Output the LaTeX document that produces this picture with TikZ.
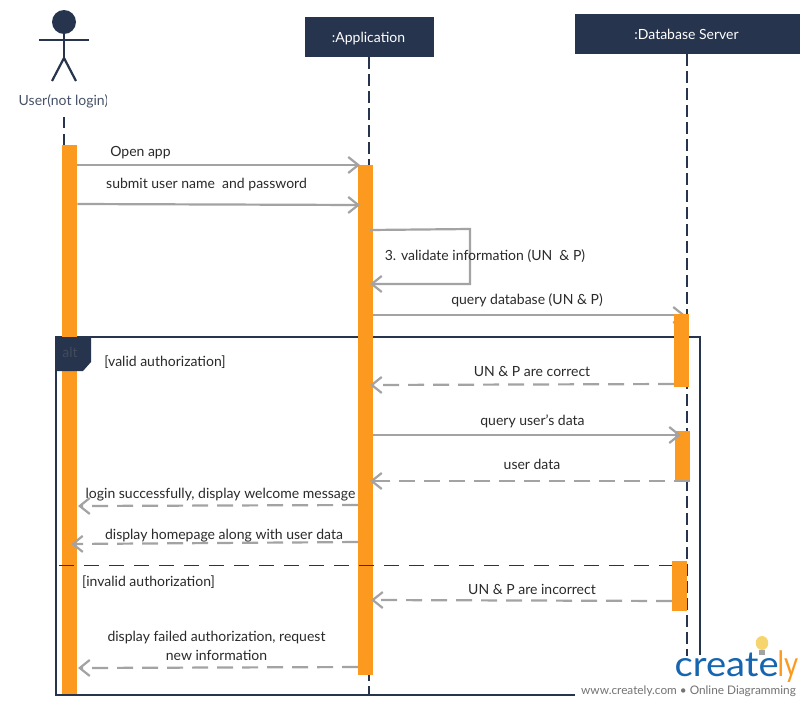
\documentclass[tikz,border=0pt]{standalone}
\usepackage{fontspec}
\setmainfont{Lato}
\usetikzlibrary{arrows.meta,calc,shapes.geometric}
\definecolor{navy}{HTML}{26344D}
\definecolor{msg}{HTML}{A3A3A3}
\definecolor{bar}{HTML}{FB9A1F}
\definecolor{txt}{HTML}{2A2A2A}
\definecolor{logoblue}{HTML}{1565B0}
\definecolor{bulbc}{HTML}{F6D56E}
\definecolor{alttxt}{HTML}{434B5A}
\tikzset{
  x=1pt,y=-1pt,
  head/.style={rectangle,fill=navy,text=white,inner sep=0,font=\fontsize{14}{15}\selectfont},
  lifeline/.style={draw=navy,line width=2pt,dash pattern=on 12pt off 5pt},
  activation/.style={rectangle,fill=bar,inner sep=0,minimum width=15pt,anchor=north west},
  call/.style={draw=msg,line width=2.2pt,-{Straight Barb[length=10pt,width=16pt,line width=2.2pt]}},
  reply/.style={call,dash pattern=on 16pt off 9pt},
  lbl/.style={text=txt,inner sep=0,font=\fontsize{14}{16}\selectfont},
}
\begin{document}
\begin{tikzpicture}
\useasboundingbox (0,0) rectangle (810,707);
\fill[white] (0,0) rectangle (810,707);
% actor
\node[circle,fill=navy,minimum size=24pt,inner sep=0] (uhead) at (64,22) {};
\coordinate (hip) at (64,58);
\draw[navy,line width=2.2pt] (uhead.south) -- (hip) (39,40) -- (89,40);
\draw[navy,line width=2.2pt] (52,81) -- (hip) -- (76,81);
\begin{scope}
\clip (0,85) rectangle (106.5,115);
\node[lbl,text=navy!85!white] (ulabel) at (63.5,101) {User(not login)};
\end{scope}
% heads
\node[head,minimum width=129pt,minimum height=40pt] (app) at (369.5,37) {\raisebox{-2pt}[\height][\depth]{\kern-2pt:Application}};
\node[head,minimum width=225pt,minimum height=40pt] (db) at (687.5,34) {\kern-2pt:Database Server};
% lifelines
\coordinate (uTop) at (64,117);
\coordinate (uBot) at (64,145);
\coordinate (aBot) at (368.5,696);
\coordinate (dBot) at (687,656);
\draw[lifeline,dash pattern=on 11pt off 6pt] (uTop) -- (uBot);
\draw[lifeline] (app.south -| aBot) -- (aBot);
\draw[lifeline] (db.south -| dBot) -- (dBot);
% frame
\coordinate (f1) at (575,695);
\coordinate (f2) at (56,695);
\coordinate (f3) at (56,337);
\coordinate (f4) at (700,337);
\coordinate (f5) at (700,655);
\draw[navy,line width=2pt] (f1) -- (f2) -- (f3) -- (f4) -- (f5);
% bars
\node[activation,minimum height=549pt] (barU) at (62,145) {};
\node[activation,minimum height=510pt] (barA) at (358,165) {};
% message 4 passes under its bar
\draw[call] (barA.east |- 0,315) -- (685,315);
\node[activation,minimum height=73pt] (barD1) at (674,314) {};
\node[activation,minimum height=49pt] (barD2) at (675,431) {};
\node[activation,minimum height=50pt] (barD3) at (672,561) {};
% alt tab
\fill[navy] (55,337) -- (91,337) -- (91,362) -- (83,371) -- (55,371) -- cycle;
\node[inner sep=0,text=alttxt,font=\fontsize{14}{15}\selectfont] (alt) at (70,352.5) {alt};
% divider
\draw[navy,line width=0.8pt,dash pattern=on 15pt off 10pt] (59,565.5) -- (barD3.west |- 0,565.5);
% messages
\draw[call] (barU.east |- 0,165) -- (360,165);
\draw[call] (barU.east |- 0,204) -- (360,205);
\draw[call] (370,230) -- (470,229) -- (470,284) -- (370,284);
\draw[reply] (barD1.west |- 0,384) -- (370,385);
\draw[call] (barA.east |- 0,435) -- (681,435);
\draw[reply] (barD2.east |- 0,481) -- (370,481);
\draw[reply] (barA.west |- 0,505) -- (78,506);
\draw[reply] (barA.west |- 0,542) -- (71,544);
\draw[reply] (barD3.west |- 0,601) -- (371,600);
\draw[reply] (barA.west |- 0,667) -- (78,668);
% labels
\node[lbl] (t1) at (140.5,152.5) {Open app};
\node[lbl] (t2) at (206.5,185) {submit user name\ \ and password};
\node[lbl] (t3) at (485,256.5) {3. validate information (UN\ \ \& P)};
\node[lbl] (t4) at (527,300) {query database (UN \& P)};
\node[lbl] (t5) at (532,371) {UN \& P are correct};
\node[lbl] (t6) at (532.5,421) {query user's data};
\node[lbl] (t7) at (532,464) {user data};
\node[lbl] (t8) at (220.5,494.5) {login successfully, display welcome message};
\node[lbl] (t9) at (224,536) {display homepage along with user data};
\node[lbl] (t10) at (532,589) {UN \& P are incorrect};
\node[lbl,align=center,font=\fontsize{14}{19}\selectfont] (t11) at (216.5,645.5) {display failed authorization, request\\new information};
\node[lbl] (g1) at (165,362) {[valid authorization]};
\node[lbl] (g2) at (148.5,582) {[invalid authorization]};
% logo
\fill[msg] (759,650) rectangle (765,655);
\node[ellipse,fill=bulbc,minimum width=12.5pt,minimum height=14pt,inner sep=0] (bulb) at (762,643) {};
\node[inner sep=0,anchor=west,text=logoblue,font=\fontsize{35}{36}\selectfont] (logo) at (674.5,667) {\scalebox{1.09}[1]{create}\kern-1pt\scalebox{0.78}[1]{\textcolor{bar}{ly}}};
\node[inner sep=0,text=black!55,font=\fontsize{11.8}{13}\selectfont] (www) at (688.5,691.5) {www.creately.com • Online Diagramming};
\end{tikzpicture}
\end{document}
